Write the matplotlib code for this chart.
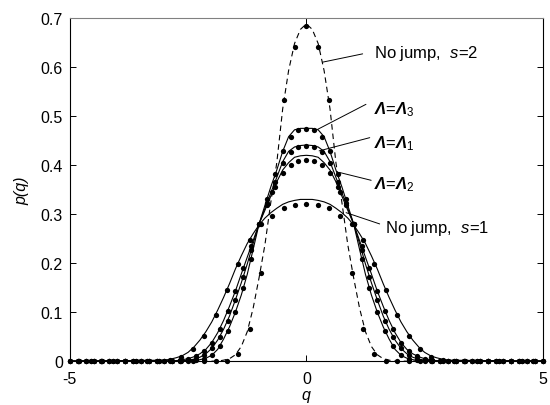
import numpy as np
import matplotlib.pyplot as plt

plt.rcParams["font.family"] = ["Liberation Sans", "DejaVu Sans"]
plt.rcParams["mathtext.fontset"] = "custom"
plt.rcParams["mathtext.rm"] = "Liberation Sans"
plt.rcParams["mathtext.it"] = "Liberation Sans:italic"
plt.rcParams["mathtext.bf"] = "Liberation Sans:italic:bold"

# half profiles for q >= 0 (the curves are symmetric about q = 0)
q_line = list(np.arange(0, 3.001, 0.125)) + [5.0]
s2_line = [0.688, 0.677, 0.648, 0.593, 0.515, 0.405, 0.325, 0.238, 0.170, 0.108,
           0.060, 0.030, 0.013, 0.005, 0.002, 0, 0, 0, 0, 0, 0, 0, 0, 0, 0, 0]
s1_line = [0.330, 0.330, 0.328, 0.325, 0.320, 0.312, 0.303, 0.292, 0.278, 0.260,
           0.240, 0.215, 0.188, 0.158, 0.130, 0.104, 0.080, 0.060, 0.043, 0.029,
           0.018, 0.011, 0.007, 0.004, 0.002, 0]
lam3_line = [0.475, 0.475, 0.472, 0.458, 0.428, 0.390, 0.356, 0.318, 0.280, 0.228,
             0.177, 0.135, 0.100, 0.070, 0.045, 0.024, 0.012, 0.006, 0.003, 0.001,
             0, 0, 0, 0, 0, 0]
lam1_line = [0.441, 0.440, 0.437, 0.428, 0.407, 0.375, 0.344, 0.312, 0.280, 0.240,
             0.198, 0.160, 0.125, 0.092, 0.065, 0.043, 0.026, 0.015, 0.008, 0.004,
             0.002, 0.001, 0, 0, 0, 0]
lam2_line = [0.420, 0.419, 0.416, 0.405, 0.390, 0.366, 0.337, 0.308, 0.280, 0.246,
             0.212, 0.178, 0.143, 0.112, 0.083, 0.058, 0.038, 0.024, 0.015, 0.009,
             0.005, 0.003, 0.001, 0, 0, 0]

# simulated points (no-jump runs on a 0.24 grid, jump runs on a 1/6 grid)
q_dots_s = np.arange(0, 4.81, 0.24)
s1_dots = [0.320, 0.318, 0.312, 0.297, 0.280, 0.248, 0.198, 0.145, 0.094, 0.052,
           0.024, 0.009, 0.003, 0.001, 0, 0, 0, 0, 0, 0, 0]
s2_dots = [0.684, 0.640, 0.532, 0.345, 0.180, 0.066, 0.015, 0.001, 0, 0,
           0, 0, 0, 0, 0, 0, 0, 0, 0, 0, 0]

q_dots_lam = np.arange(31) / 6
lam3_dots = [0.473, 0.471, 0.458, 0.428, 0.382, 0.330, 0.280, 0.209, 0.149, 0.100,
             0.062, 0.031, 0.012, 0.005, 0.002, 0, 0, 0, 0, 0,
             0, 0, 0, 0, 0, 0, 0, 0, 0, 0, 0]
lam1_dots = [0.440, 0.437, 0.426, 0.405, 0.365, 0.322, 0.280, 0.226, 0.172, 0.125,
             0.082, 0.050, 0.026, 0.013, 0.005, 0.002, 0, 0, 0, 0,
             0, 0, 0, 0, 0, 0, 0, 0, 0, 0, 0]
lam2_dots = [0.411, 0.409, 0.400, 0.383, 0.356, 0.318, 0.280, 0.235, 0.190, 0.143,
             0.102, 0.066, 0.038, 0.020, 0.011, 0.005, 0.002, 0.001, 0, 0,
             0, 0, 0, 0, 0, 0, 0, 0, 0, 0, 0]

y_ticks = [0, 0.1, 0.2, 0.3, 0.4, 0.5, 0.6, 0.7]
y_tick_labels = ["0", "0.1", "0.2", "0.3", "0.4", "0.5", "0.6", "0.7"]
x_ticks = [-5, 0, 5]


def mirror(q, p):
    q = np.asarray(q, dtype=float)
    p = np.asarray(p, dtype=float)
    return np.concatenate([-q[:0:-1], q]), np.concatenate([p[:0:-1], p])


fig = plt.figure(figsize=(5.5, 4.06), dpi=100)
ax = fig.add_axes([0.127, 0.108, 0.86, 0.845])

lw = 0.8
ax.plot(*mirror(q_line, s2_line), color="k", lw=lw, ls=(0, (5, 3.5)))
for vals in (s1_line, lam3_line, lam1_line, lam2_line):
    ax.plot(*mirror(q_line, vals), color="k", lw=lw)

for vals in (s1_dots, s2_dots):
    ax.plot(*mirror(q_dots_s, vals), "o", color="k", ms=3.8, mew=0, clip_on=False)
for vals in (lam3_dots, lam1_dots, lam2_dots):
    ax.plot(*mirror(q_dots_lam, vals), "o", color="k", ms=3.8, mew=0, clip_on=False)

# labels with leader lines
labels = [
    ("No jump,  $\\mathit{s}$=2", (0.34, 0.610), (1.19, 0.627), (1.42, 0.630)),
    ("$\\mathbf{\\Lambda}$=$\\mathbf{\\Lambda}_{3}$", (0.24, 0.473), (1.26, 0.524), (1.44, 0.516)),
    ("$\\mathbf{\\Lambda}$=$\\mathbf{\\Lambda}_{1}$", (0.27, 0.429), (1.34, 0.456), (1.44, 0.446)),
    ("$\\mathbf{\\Lambda}$=$\\mathbf{\\Lambda}_{2}$", (0.70, 0.385), (1.37, 0.369), (1.44, 0.363)),
    ("No jump,  $\\mathit{s}$=1", (0.84, 0.303), (1.55, 0.280), (1.67, 0.273)),
]
for text, start, end, pos in labels:
    ax.annotate("", xy=start, xytext=end,
                arrowprops=dict(arrowstyle="-", lw=0.7, color="k", shrinkA=0, shrinkB=0))
    ax.text(pos[0], pos[1], text, fontsize=12, ha="left", va="center")

ax.set_xlim(-5, 5)
ax.set_ylim(0, 0.7)
ax.set_xticks(x_ticks)
ax.set_xticklabels(["-5", "0", "5"])
ax.set_yticks(y_ticks)
ax.set_yticklabels(y_tick_labels)
ax.tick_params(direction="in", top=True, right=True, length=4, width=0.7,
               labelsize=11.5)
ax.tick_params(axis="x", pad=7)
ax.tick_params(axis="y", pad=5)
for side in ax.spines:
    ax.spines[side].set_linewidth(0.8)
ax.spines["top"].set_color("0.5")

ax.set_xlabel("q", fontsize=11.5, style="italic", labelpad=1)
ax.set_ylabel("p(q)", fontsize=11.5, style="italic", labelpad=8)

fig.savefig("out.png", dpi=100)
